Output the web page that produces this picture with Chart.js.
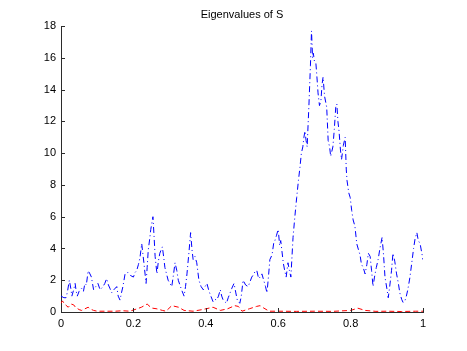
<!DOCTYPE html>
<html>
<head>
<meta charset="utf-8">
<script src="https://cdn.jsdelivr.net/npm/chart.js@4"></script>
<style>
  body { margin: 0; background: #fff; }
</style>
</head>
<body>
<canvas id="chartCanvas" width="467" height="351"></canvas>
<script>
// eigenvalue traces
var bigX = [0.000, 0.008, 0.014, 0.018, 0.023, 0.027, 0.030, 0.035, 0.039, 0.042, 0.045, 0.050, 0.057, 0.062, 0.066, 0.070, 0.075, 0.080, 0.084, 0.090,
    0.096, 0.102, 0.108, 0.116, 0.121, 0.126, 0.131, 0.135, 0.140, 0.146, 0.154, 0.158, 0.163, 0.167, 0.171, 0.177, 0.185, 0.192, 0.200, 0.205,
    0.209, 0.214, 0.218, 0.223, 0.229, 0.235, 0.238, 0.241, 0.245, 0.248, 0.254, 0.257, 0.260, 0.265, 0.269, 0.273, 0.280, 0.284, 0.287, 0.296,
    0.301, 0.306, 0.311, 0.315, 0.320, 0.324, 0.333, 0.340, 0.344, 0.348, 0.354, 0.358, 0.362, 0.365, 0.370, 0.375, 0.381, 0.387, 0.393, 0.398,
    0.403, 0.409, 0.414, 0.420, 0.425, 0.430, 0.435, 0.440, 0.444, 0.448, 0.457, 0.462, 0.467, 0.472, 0.478, 0.483, 0.487, 0.494, 0.498, 0.503,
    0.510, 0.517, 0.522, 0.527, 0.533, 0.537, 0.541, 0.546, 0.550, 0.555, 0.560, 0.565, 0.569, 0.573, 0.577, 0.583, 0.588, 0.591, 0.595, 0.600,
    0.604, 0.607, 0.610, 0.614, 0.618, 0.622, 0.627, 0.631, 0.635, 0.641, 0.646, 0.651, 0.656, 0.660, 0.664, 0.668, 0.671, 0.674, 0.677, 0.680,
    0.685, 0.689, 0.692, 0.695, 0.697, 0.700, 0.704, 0.707, 0.710, 0.714, 0.718, 0.721, 0.724, 0.728, 0.734, 0.738, 0.742, 0.745, 0.751, 0.755,
    0.759, 0.762, 0.765, 0.768, 0.772, 0.775, 0.780, 0.785, 0.788, 0.790, 0.795, 0.799, 0.803, 0.807, 0.812, 0.817, 0.822, 0.826, 0.830, 0.835,
    0.840, 0.845, 0.849, 0.854, 0.858, 0.862, 0.866, 0.871, 0.876, 0.881, 0.887, 0.891, 0.895, 0.900, 0.904, 0.908, 0.913, 0.917, 0.922, 0.927,
    0.932, 0.936, 0.941, 0.945, 0.950, 0.954, 0.958, 0.964, 0.969, 0.974, 0.978, 0.983, 0.987, 0.992, 0.996, 1.000];
var bigY = [1.0, 0.9, 0.9, 1.3, 2.0, 1.5, 1.0, 1.4, 1.8, 1.3, 1.0, 1.3, 1.5, 1.3, 1.8, 1.7, 2.6, 2.4, 2.2, 1.4,
    1.6, 1.8, 1.4, 1.6, 1.8, 2.1, 1.7, 1.5, 1.2, 1.4, 1.6, 1.0, 0.75, 1.2, 1.6, 2.4, 2.5, 2.3, 2.2, 2.5,
    2.6, 3.0, 3.4, 4.3, 3.1, 1.8, 2.8, 3.9, 4.6, 5.2, 6.0, 4.8, 3.5, 2.4, 3.2, 3.7, 4.1, 3.4, 2.8, 2.0,
    1.8, 1.6, 2.4, 3.1, 2.6, 2.0, 1.4, 1.0, 1.6, 2.4, 3.9, 5.0, 3.9, 3.3, 3.5, 3.1, 2.0, 1.6, 1.4, 1.6,
    1.8, 1.3, 1.0, 0.65, 0.8, 0.75, 1.0, 1.4, 1.0, 0.75, 0.55, 0.9, 1.2, 1.5, 1.8, 1.2, 0.75, 0.55, 1.0, 2.0,
    1.7, 1.6, 1.9, 2.2, 2.4, 2.6, 2.6, 2.1, 2.2, 2.4, 2.0, 1.6, 1.2, 2.2, 3.3, 3.6, 4.4, 4.5, 4.8, 5.2,
    4.2, 4.5, 3.9, 3.1, 2.6, 2.2, 3.1, 2.6, 2.2, 4.7, 6.0, 7.2, 8.3, 9.1, 10.0, 10.4, 11.0, 11.4, 10.8, 10.4,
    13.1, 15.5, 17.7, 16.0, 16.3, 15.8, 15.7, 14.8, 13.8, 13.0, 13.3, 14.3, 14.8, 13.6, 12.9, 10.8, 10.4, 9.8, 10.4, 11.5,
    12.9, 13.1, 12.0, 11.4, 10.2, 9.6, 10.5, 11.0, 9.0, 8.3, 7.5, 7.2, 6.4, 5.8, 5.4, 4.3, 3.9, 3.6, 3.0, 2.8,
    2.4, 3.0, 3.7, 3.5, 2.6, 1.6, 2.2, 2.8, 3.3, 4.0, 4.7, 3.6, 2.2, 1.5, 0.9, 1.6, 2.6, 3.7, 3.2, 2.4,
    1.8, 1.2, 0.8, 0.6, 0.7, 1.0, 1.4, 2.2, 3.1, 4.0, 4.6, 5.0, 4.5, 4.3, 3.8, 3.3];

var smallX = [0.000, 0.004, 0.010, 0.020, 0.028, 0.035, 0.040, 0.050, 0.057, 0.066, 0.075, 0.080, 0.090, 0.100, 0.120, 0.150, 0.170, 0.190, 0.210, 0.222,
    0.238, 0.250, 0.265, 0.280, 0.290, 0.306, 0.325, 0.340, 0.365, 0.390, 0.420, 0.440, 0.460, 0.480, 0.490, 0.500, 0.520, 0.540, 0.550, 0.560,
    0.575, 0.600, 0.650, 0.700, 0.750, 0.800, 0.820, 0.840, 0.870, 0.900, 0.940, 0.980, 1.000];
var smallY = [0.55, 0.7, 0.5, 0.3, 0.5, 0.45, 0.3, 0.15, 0.1, 0.2, 0.3, 0.2, 0.1, 0.05, 0.05, 0.05, 0.08, 0.05, 0.2, 0.3,
    0.5, 0.25, 0.2, 0.1, 0.05, 0.4, 0.3, 0.1, 0.05, 0.15, 0.3, 0.1, 0.2, 0.4, 0.35, 0.05, 0.2, 0.35, 0.4, 0.25,
    0.05, 0.05, 0.04, 0.05, 0.04, 0.1, 0.24, 0.1, 0.04, 0.05, 0.03, 0.05, 0.05];

var xTicks = [0, 0.2, 0.4, 0.6, 0.8, 1];
var yTicks = [0, 2, 4, 6, 8, 10, 12, 14, 16, 18];
var chartTitle = "Eigenvalues of S";

function toPoints(xs, ys) {
    var pts = [];
    for (var i = 0; i < xs.length; i++) {
        pts.push({ x: xs[i], y: ys[i] });
    }
    return pts;
}

var fontFamily = "'Liberation Sans', Arial, Helvetica, sans-serif";

// matlab style ticks pointing into the axes, title centred over the axes
var innerTicks = {
    id: "innerTicks",
    afterLayout: function (chart) {
        if (chart.titleBlock) {
            chart.titleBlock.left = chart.chartArea.left;
            chart.titleBlock.right = chart.chartArea.right;
        }
    },
    afterDraw: function (chart) {
        var ctx = chart.ctx;
        var xs = chart.scales.x;
        var ys = chart.scales.y;
        var area = chart.chartArea;
        ctx.save();
        ctx.strokeStyle = "#2b2b2b";
        ctx.lineWidth = 1;
        ctx.beginPath();
        for (var i = 0; i < xTicks.length; i++) {
            var px = Math.round(xs.getPixelForValue(xTicks[i])) + 0.5;
            ctx.moveTo(px, area.bottom);
            ctx.lineTo(px, area.bottom - 4);
        }
        for (var j = 0; j < yTicks.length; j++) {
            var py = Math.round(ys.getPixelForValue(yTicks[j])) + 0.5;
            ctx.moveTo(area.left, py);
            ctx.lineTo(area.left + 4, py);
        }
        ctx.stroke();
        ctx.restore();
    }
};

var chart = new Chart(document.getElementById("chartCanvas"), {
    type: "scatter",
    data: {
        datasets: [{
            data: toPoints(bigX, bigY),
            showLine: true,
            borderColor: "rgb(0,0,255)",
            borderWidth: 1,
            borderDash: [6, 3, 1, 3],
            pointRadius: 0,
            tension: 0
        }, {
            data: toPoints(smallX, smallY),
            showLine: true,
            borderColor: "rgb(255,0,0)",
            borderWidth: 1,
            borderDash: [5, 3],
            pointRadius: 0,
            tension: 0
        }]
    },
    options: {
        responsive: false,
        animation: false,
        layout: { padding: { left: 0, right: 44, top: 0, bottom: 0 } },
        plugins: {
            legend: { display: false },
            tooltip: { enabled: false },
            title: {
                display: true,
                text: chartTitle,
                color: "#000",
                font: { family: fontFamily, size: 11, weight: "normal" },
                padding: { top: 8, bottom: 5 }
            }
        },
        scales: {
            x: {
                type: "linear",
                min: 0,
                max: 1,
                afterBuildTicks: function (scale) {
                    scale.ticks = xTicks.map(function (v) { return { value: v }; });
                },
                afterFit: function (scale) { scale.height = 39; },
                grid: { display: false, drawTicks: false },
                border: { display: true, color: "#2b2b2b", width: 1 },
                ticks: {
                    color: "#000", padding: 5, maxRotation: 0,
                    font: { family: fontFamily, size: 11 },
                    callback: function (v) { return String(+v.toFixed(1)); }
                }
            },
            y: {
                min: 0,
                max: 18,
                afterBuildTicks: function (scale) {
                    scale.ticks = yTicks.map(function (v) { return { value: v }; });
                },
                afterFit: function (scale) { scale.width = 61; },
                grid: { display: false, drawTicks: false },
                border: { display: true, color: "#2b2b2b", width: 1 },
                ticks: { color: "#000", padding: 5, font: { family: fontFamily, size: 11 } }
            }
        }
    },
    plugins: [innerTicks]
});
</script>
</body>
</html>
